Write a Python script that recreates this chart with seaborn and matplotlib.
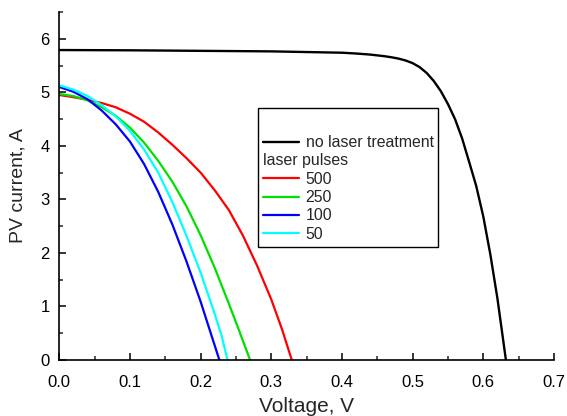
import numpy as np
import pandas as pd
import seaborn as sns
import matplotlib.pyplot as plt
from matplotlib.lines import Line2D
from matplotlib.ticker import MultipleLocator

# reference cell, no laser treatment
v_ref = [0.0, 0.1, 0.2, 0.3, 0.4, 0.42, 0.44, 0.46, 0.47, 0.48, 0.49, 0.50,
         0.51, 0.52, 0.53, 0.54, 0.55, 0.56, 0.57, 0.58, 0.59, 0.60, 0.61,
         0.62, 0.632]
i_ref = [5.79, 5.785, 5.775, 5.765, 5.74, 5.725, 5.705, 5.675, 5.655, 5.63,
         5.595, 5.545, 5.47, 5.36, 5.21, 5.02, 4.78, 4.50, 4.14, 3.70, 3.25,
         2.68, 1.97, 1.15, 0.0]

# laser treated cells
v_500 = [0.0, 0.02, 0.04, 0.06, 0.08, 0.10, 0.12, 0.14, 0.16, 0.18, 0.20,
         0.22, 0.24, 0.26, 0.28, 0.30, 0.315, 0.329]
i_500 = [4.95, 4.91, 4.86, 4.80, 4.72, 4.60, 4.45, 4.25, 4.02, 3.77, 3.50,
         3.17, 2.80, 2.32, 1.76, 1.13, 0.58, 0.0]

v_250 = [0.0, 0.02, 0.04, 0.06, 0.08, 0.10, 0.12, 0.14, 0.16, 0.18, 0.20,
         0.22, 0.24, 0.255, 0.27]
i_250 = [4.97, 4.93, 4.85, 4.72, 4.56, 4.34, 4.06, 3.72, 3.33, 2.87, 2.33,
         1.72, 1.05, 0.53, 0.0]

v_100 = [0.0, 0.02, 0.04, 0.06, 0.08, 0.10, 0.12, 0.14, 0.16, 0.18, 0.20,
         0.2265]
i_100 = [5.10, 5.01, 4.87, 4.66, 4.40, 4.08, 3.66, 3.14, 2.53, 1.84, 1.09,
         0.0]

v_50 = [0.0, 0.02, 0.04, 0.06, 0.08, 0.10, 0.12, 0.14, 0.16, 0.18, 0.20,
        0.22, 0.23, 0.238]
i_50 = [5.13, 5.05, 4.93, 4.76, 4.55, 4.28, 3.93, 3.50, 2.95, 2.32, 1.63,
        0.86, 0.44, 0.0]

pulses = ["500", "250", "100", "50"]
colors = {"500": "#ff0000", "250": "#00e000", "100": "#0000ff", "50": "#00ffff"}

frames = []
for name, v, i in zip(pulses, [v_500, v_250, v_100, v_50],
                      [i_500, i_250, i_100, i_50]):
    frames.append(pd.DataFrame({"V": v, "I": i, "pulses": name}))
df = pd.concat(frames, ignore_index=True)
df_ref = pd.DataFrame({"V": v_ref, "I": i_ref})

sns.set_style("ticks")
plt.rcParams["font.family"] = ["Liberation Sans", "DejaVu Sans"]

fig = plt.figure(figsize=(5.67, 4.16), dpi=100)
ax = fig.add_axes([0.1046, 0.1346, 0.8724, 0.8365])

sns.lineplot(data=df_ref, x="V", y="I", color="black", lw=1.7,
             sort=False, estimator=None, ax=ax, legend=False)
sns.lineplot(data=df, x="V", y="I", hue="pulses", palette=colors,
             hue_order=pulses, lw=1.6, sort=False, estimator=None,
             ax=ax, legend=False)

ax.set_xlim(0, 0.7)
ax.set_ylim(0, 6.5)
ax.xaxis.set_major_locator(MultipleLocator(0.1))
ax.xaxis.set_minor_locator(MultipleLocator(0.05))
ax.yaxis.set_major_locator(MultipleLocator(1))
ax.yaxis.set_minor_locator(MultipleLocator(0.5))
ax.xaxis.set_major_formatter(lambda x, p: f"{x:.1f}")
ax.yaxis.set_major_formatter(lambda x, p: f"{x:.0f}")
ax.tick_params(which="major", direction="in", length=5, width=1.1,
               labelsize=12, colors="black")
ax.tick_params(which="minor", direction="in", length=3, width=1.1)
ax.tick_params(axis="x", which="major", pad=11)
ax.tick_params(axis="y", which="major", pad=7)
for side in ["left", "bottom"]:
    ax.spines[side].set_linewidth(1.2)
    ax.spines[side].set_color("black")
sns.despine(ax=ax)

ax.set_xlabel("Voltage, V", fontsize=15, labelpad=5)
ax.set_ylabel("PV current, A", fontsize=14, labelpad=10)

handles = [Line2D([], [], color="black", lw=1.7),
           Line2D([], [], color="none")]
labels = ["no laser treatment", "laser pulses"]
for p in pulses:
    handles.append(Line2D([], [], color=colors[p], lw=1.6))
    labels.append(p)

leg_fs = 11.4
leg = ax.legend(handles, labels, loc="upper left",
                bbox_to_anchor=(0.402, 0.724), borderaxespad=0,
                fontsize=leg_fs, title=" ", title_fontsize=14.5,
                frameon=True, fancybox=False, edgecolor="black",
                framealpha=1, handlelength=2.3, handletextpad=0.4,
                labelspacing=0.21, borderpad=0.3)
leg.get_frame().set_linewidth(1.0)
# "laser pulses" is a heading row: move its text to where the handles start
fs_px = leg_fs * fig.dpi / 72
leg.get_texts()[1].set_x(-(2.3 + 0.4) * fs_px)

fig.savefig("out.png", dpi=100)
